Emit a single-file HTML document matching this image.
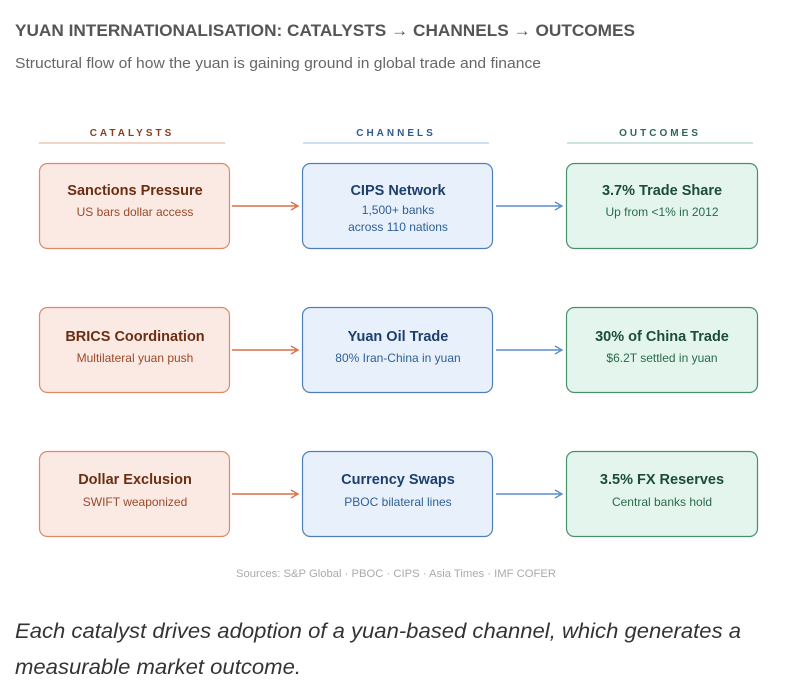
<!DOCTYPE html>
<html><head><meta charset="utf-8"><style>
html,body{margin:0;padding:0;background:#fff;}
svg{display:block;}
text{font-family:"Liberation Sans",sans-serif;}
</style></head><body>
<svg width="790" height="692" viewBox="0 0 790 692" xmlns="http://www.w3.org/2000/svg">
<defs>
<marker id="ao" markerWidth="10" markerHeight="10" refX="8" refY="5" orient="auto" markerUnits="userSpaceOnUse"><path d="M1,1 L8,5 L1,9" fill="none" stroke="#d9704a" stroke-width="1.3"/></marker>
<marker id="ab" markerWidth="10" markerHeight="10" refX="8" refY="5" orient="auto" markerUnits="userSpaceOnUse"><path d="M1,1 L8,5 L1,9" fill="none" stroke="#5a8fc8" stroke-width="1.3"/></marker>
</defs>
<text x="15" y="36" font-size="17" font-weight="bold" fill="#555" textLength="620" lengthAdjust="spacingAndGlyphs">YUAN INTERNATIONALISATION: CATALYSTS → CHANNELS → OUTCOMES</text>
<text x="15" y="68" font-size="15" fill="#666" textLength="526" lengthAdjust="spacingAndGlyphs">Structural flow of how the yuan is gaining ground in global trade and finance</text>

<text x="132" y="136" font-size="10" font-weight="bold" fill="#8a3e1e" text-anchor="middle" letter-spacing="3">CATALYSTS</text>
<line x1="39" y1="143" x2="225" y2="143" stroke="#f2d3c6" stroke-width="2"/>
<text x="396" y="136" font-size="10" font-weight="bold" fill="#2d5d90" text-anchor="middle" letter-spacing="3">CHANNELS</text>
<line x1="303" y1="143" x2="489" y2="143" stroke="#cfe0f3" stroke-width="2"/>
<text x="660" y="136" font-size="10" font-weight="bold" fill="#2a6a54" text-anchor="middle" letter-spacing="3">OUTCOMES</text>
<line x1="567" y1="143" x2="753" y2="143" stroke="#cde6dc" stroke-width="2"/>

<g id="r1">
<rect x="39.5" y="163.5" width="190" height="85" rx="8" fill="#fbe9e3" stroke="#e0896a" stroke-width="1.2"/>
<rect x="302.5" y="163.5" width="190" height="85" rx="8" fill="#e8f0fb" stroke="#4f7fb8" stroke-width="1.2"/>
<rect x="566.5" y="163.5" width="191" height="85" rx="8" fill="#e3f5ec" stroke="#4a8f6e" stroke-width="1.2"/>
</g>
<rect x="39.5" y="307.5" width="190" height="85" rx="8" fill="#fbe9e3" stroke="#e0896a" stroke-width="1.2"/>
<rect x="302.5" y="307.5" width="190" height="85" rx="8" fill="#e8f0fb" stroke="#4f7fb8" stroke-width="1.2"/>
<rect x="566.5" y="307.5" width="191" height="85" rx="8" fill="#e3f5ec" stroke="#4a8f6e" stroke-width="1.2"/>
<rect x="39.5" y="451.5" width="190" height="85" rx="8" fill="#fbe9e3" stroke="#e0896a" stroke-width="1.2"/>
<rect x="302.5" y="451.5" width="190" height="85" rx="8" fill="#e8f0fb" stroke="#4f7fb8" stroke-width="1.2"/>
<rect x="566.5" y="451.5" width="191" height="85" rx="8" fill="#e3f5ec" stroke="#4a8f6e" stroke-width="1.2"/>

<g stroke-width="1.4">
<line x1="232" y1="206" x2="298" y2="206" stroke="#d9704a" marker-end="url(#ao)"/>
<line x1="496" y1="206" x2="562" y2="206" stroke="#5a8fc8" marker-end="url(#ab)"/>
<line x1="232" y1="350" x2="298" y2="350" stroke="#d9704a" marker-end="url(#ao)"/>
<line x1="496" y1="350" x2="562" y2="350" stroke="#5a8fc8" marker-end="url(#ab)"/>
<line x1="232" y1="494" x2="298" y2="494" stroke="#d9704a" marker-end="url(#ao)"/>
<line x1="496" y1="494" x2="562" y2="494" stroke="#5a8fc8" marker-end="url(#ab)"/>
</g>

<g text-anchor="middle">
<g font-size="14.5" font-weight="bold">
<text x="135" y="195" fill="#6b2e12">Sanctions Pressure</text>
<text x="398" y="195" fill="#1d3f6e">CIPS Network</text>
<text x="662" y="195" fill="#1b4d38">3.7% Trade Share</text>
<text x="135" y="341" fill="#6b2e12">BRICS Coordination</text>
<text x="398" y="341" fill="#1d3f6e">Yuan Oil Trade</text>
<text x="662" y="341" fill="#1b4d38">30% of China Trade</text>
<text x="135" y="484" fill="#6b2e12">Dollar Exclusion</text>
<text x="398" y="484" fill="#1d3f6e">Currency Swaps</text>
<text x="662" y="484" fill="#1b4d38">3.5% FX Reserves</text>
</g>
<g font-size="12">
<text x="135" y="216" fill="#9a4a2a">US bars dollar access</text>
<text x="398" y="214" fill="#2f5f95">1,500+ banks</text>
<text x="398" y="231" fill="#2f5f95">across 110 nations</text>
<text x="662" y="216" fill="#2a6a4c">Up from &lt;1% in 2012</text>
<text x="135" y="362" fill="#9a4a2a">Multilateral yuan push</text>
<text x="398" y="362" fill="#2f5f95">80% Iran-China in yuan</text>
<text x="662" y="362" fill="#2a6a4c">$6.2T settled in yuan</text>
<text x="135" y="506" fill="#9a4a2a">SWIFT weaponized</text>
<text x="398" y="506" fill="#2f5f95">PBOC bilateral lines</text>
<text x="662" y="506" fill="#2a6a4c">Central banks hold</text>
</g>
<text x="396" y="577" font-size="11" fill="#aaa" textLength="320" lengthAdjust="spacingAndGlyphs">Sources: S&amp;P Global · PBOC · CIPS · Asia Times · IMF COFER</text>
</g>
<text x="15" y="638" font-size="21" font-style="italic" fill="#333" textLength="726" lengthAdjust="spacingAndGlyphs">Each catalyst drives adoption of a yuan-based channel, which generates a</text>
<text x="15" y="674" font-size="21" font-style="italic" fill="#333" textLength="286" lengthAdjust="spacingAndGlyphs">measurable market outcome.</text>
</svg>
</body></html>
